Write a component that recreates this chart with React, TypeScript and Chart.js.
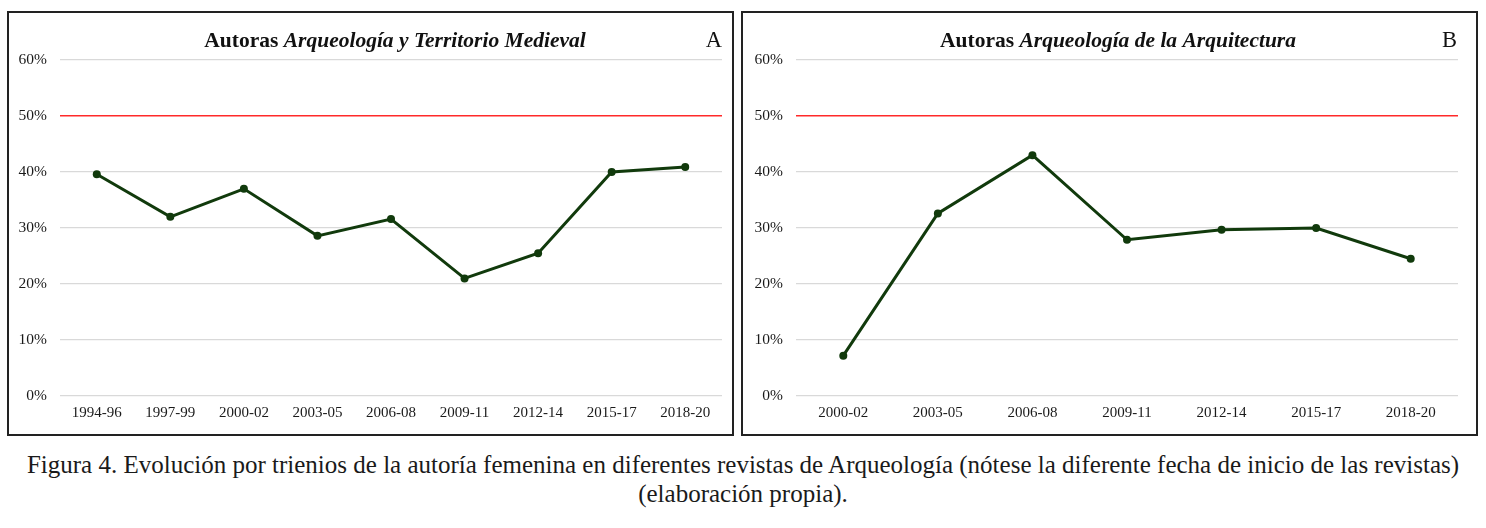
import React, { useEffect, useRef } from "react";
import { Chart, registerables } from "chart.js";

Chart.register(...registerables);

const categoriesA = ["1994-96", "1997-99", "2000-02", "2003-05", "2006-08", "2009-11", "2012-14", "2015-17", "2018-20"];
const valuesA = [39.6, 32.0, 37.0, 28.6, 31.6, 21.0, 25.5, 40.0, 40.9];

const categoriesB = ["2000-02", "2003-05", "2006-08", "2009-11", "2012-14", "2015-17", "2018-20"];
const valuesB = [7.2, 32.6, 43.0, 27.9, 29.7, 30.0, 24.5];

const yTicks = [0, 10, 20, 30, 40, 50, 60];
const parityLine = 50;

const titleA = { plain: "Autoras ", italic: "Arqueología y Territorio Medieval", letter: "A" };
const titleB = { plain: "Autoras ", italic: "Arqueología de la Arquitectura", letter: "B" };

const SERIF = "'Liberation Serif', 'Times New Roman', serif";
const LINE = "#113a0c";

const titlePlugin = {
  id: "mixedTitle",
  afterDraw(chart: any) {
    const o = chart.options.plugins.mixedTitle;
    if (!o) return;
    const ctx = chart.ctx;
    ctx.save();
    ctx.fillStyle = "#111";
    ctx.textBaseline = "middle";
    const fb = `bold ${o.size}px ${SERIF}`;
    const fi = `italic bold ${o.size}px ${SERIF}`;
    ctx.font = fb;
    const w1 = ctx.measureText(o.plain).width;
    ctx.font = fi;
    const w2 = ctx.measureText(o.italic).width;
    const x = o.cx - (w1 + w2) / 2;
    ctx.textAlign = "left";
    ctx.font = fb;
    ctx.fillText(o.plain, x, o.y);
    ctx.font = fi;
    ctx.fillText(o.italic, x + w1, o.y);
    ctx.font = `${o.size + 1}px ${SERIF}`;
    ctx.textAlign = "right";
    ctx.fillText(o.letter, o.lx, o.y);
    ctx.restore();
  },
};

function Panel(props: {
  labels: string[];
  values: number[];
  title: { plain: string; italic: string; letter: string };
  left: number;
  width: number;
  yAxisWidth: number;
  padRight: number;
  titleCx: number;
  letterX: number;
}) {
  const ref = useRef<HTMLCanvasElement>(null);
  useEffect(() => {
    if (!ref.current) return;
    const chart = new Chart(ref.current, {
      type: "line",
      data: {
        labels: props.labels,
        datasets: [
          {
            data: props.values,
            borderColor: LINE,
            backgroundColor: LINE,
            borderWidth: 3,
            pointRadius: 4,
            pointBorderWidth: 0,
            pointBackgroundColor: LINE,
            tension: 0,
          },
        ],
      },
      options: {
        animation: false,
        responsive: false,
        devicePixelRatio: 1,
        layout: { padding: { top: 47, left: 0, right: props.padRight, bottom: 8 } },
        plugins: {
          legend: { display: false },
          tooltip: { enabled: false },
          title: { display: false },
          mixedTitle: {
            ...props.title,
            size: 21.5,
            cx: props.titleCx,
            y: 28,
            lx: props.letterX,
          },
        } as any,
        scales: {
          x: {
            offset: true,
            grid: { display: false, drawTicks: false },
            border: { display: false },
            ticks: {
              padding: 8,
              color: "#1a1a1a",
              font: { family: SERIF, size: 15 },
              maxRotation: 0,
              autoSkip: false,
            },
            afterFit: (s: any) => {
              s.height = 30;
            },
          },
          y: {
            min: 0,
            max: 60,
            afterBuildTicks: (s: any) => {
              s.ticks = yTicks.map((v) => ({ value: v }));
            },
            grid: {
              drawTicks: false,
              color: (c: any) => (c.tick && c.tick.value === parityLine ? "#ff2a2a" : "#d9d9d9"),
              lineWidth: (c: any) => (c.tick && c.tick.value === parityLine ? 1.5 : 1.2),
            },
            border: { display: false },
            ticks: {
              padding: 13,
              color: "#1a1a1a",
              font: { family: SERIF, size: 15.5 },
              callback: (v: any) => `${v}%`,
            },
            afterFit: (s: any) => {
              s.width = props.yAxisWidth;
            },
          },
        },
      },
      plugins: [titlePlugin as any],
    });
    return () => chart.destroy();
  }, []);
  return (
    <div
      style={{
        position: "absolute",
        left: props.left,
        top: 11,
        width: props.width,
        height: 425,
        border: "2px solid #222",
        boxSizing: "border-box",
        background: "#fff",
      }}
    >
      <canvas ref={ref} width={props.width - 4} height={421} style={{ display: "block" }} />
    </div>
  );
}

export default function App() {
  return (
    <div
      style={{
        position: "absolute",
        left: 0,
        top: 0,
        width: 1486,
        height: 528,
        background: "#fff",
        overflow: "hidden",
      }}
    >
      <Panel
        labels={categoriesA}
        values={valuesA}
        title={titleA}
        left={7}
        width={727}
        yAxisWidth={51}
        padRight={10}
        titleCx={386}
        letterX={713}
      />
      <Panel
        labels={categoriesB}
        values={valuesB}
        title={titleB}
        left={741}
        width={737}
        yAxisWidth={53}
        padRight={18}
        titleCx={375}
        letterX={714}
      />
      <div
        style={{
          position: "absolute",
          left: 0,
          top: 450,
          width: 1486,
          textAlign: "center",
          fontFamily: SERIF,
          fontSize: 25,
          lineHeight: "29px",
          color: "#1a1a1a",
        }}
      >
        <div style={{ whiteSpace: "nowrap" }}>
          Figura 4. Evolución por trienios de la autoría femenina en diferentes revistas de Arqueología (nótese la
          diferente fecha de inicio de las revistas)
        </div>
        <div>(elaboración propia).</div>
      </div>
    </div>
  );
}
